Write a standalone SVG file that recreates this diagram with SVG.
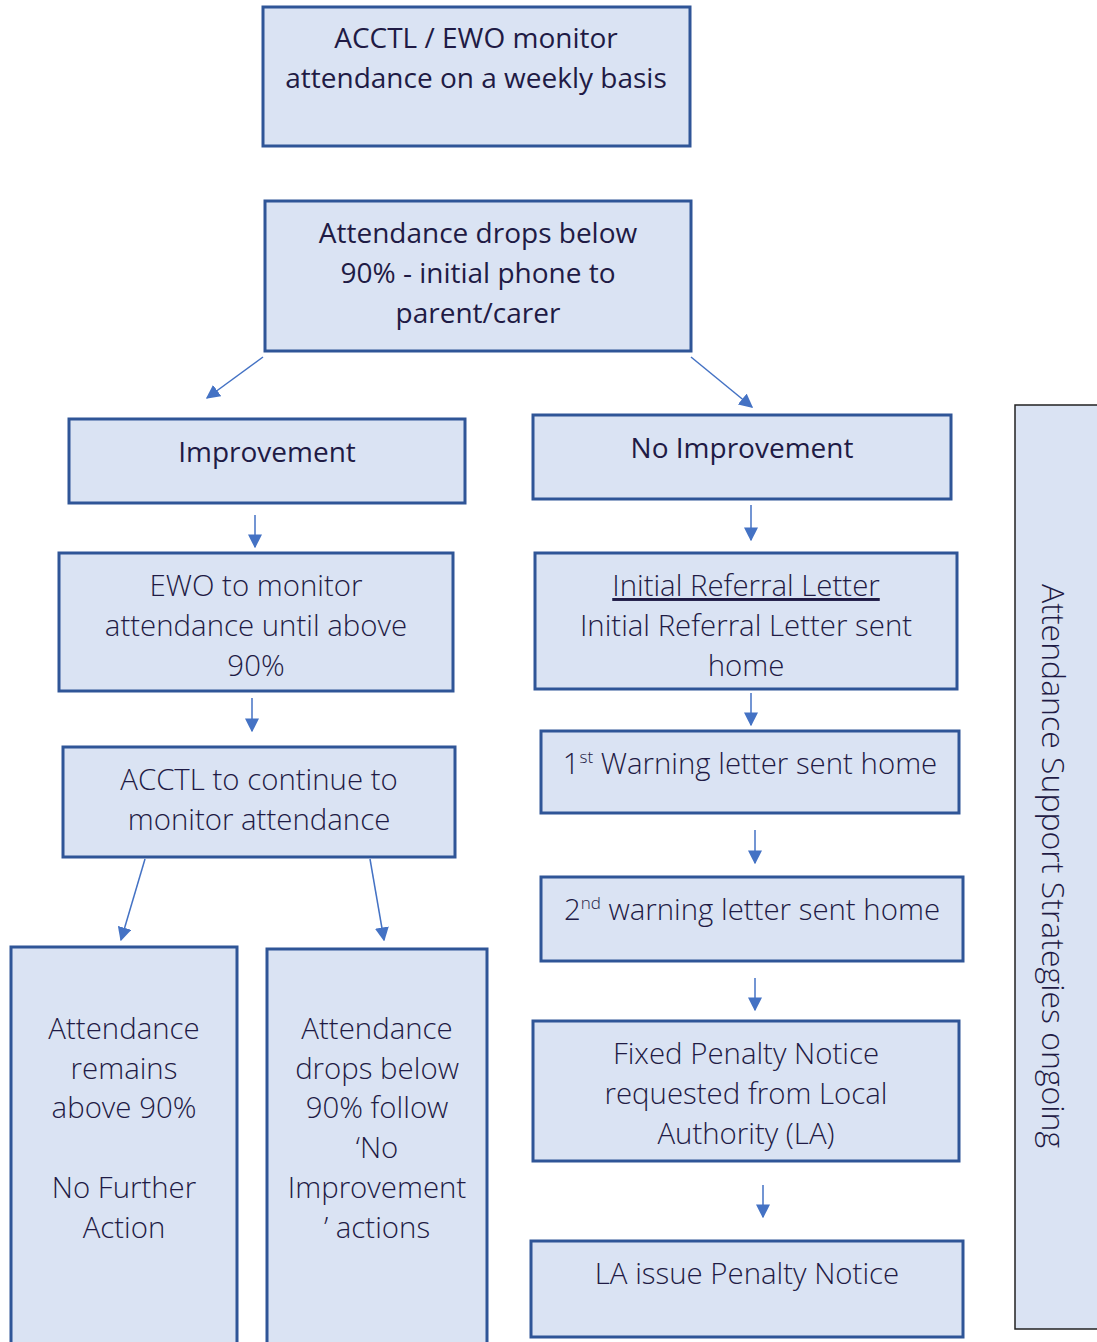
<svg xmlns="http://www.w3.org/2000/svg" width="1097" height="1342" viewBox="0 0 1097 1342">
<style>
.box{fill:#dae3f3;stroke:#2f5597;stroke-width:3}
.side{fill:#dae3f3;stroke:#222;stroke-width:1.5}
text{font-family:"Open Sans","Noto Sans",sans-serif;font-size:28px;fill:#1f1b45;text-anchor:middle}
.lt{font-weight:300;font-size:29.4px}
.con line{stroke:#4472c4;stroke-width:1.5;marker-end:url(#ah)}
</style>
<defs>
<marker id="ah" viewBox="0 0 10 10" refX="9" refY="5" markerWidth="14" markerHeight="14" markerUnits="userSpaceOnUse" orient="auto">
<path d="M0,0 L10,5 L0,10 z" fill="#4472c4"/>
</marker>
</defs>
<g id="n1"><rect class="box" x="263" y="7" width="427" height="139"/>
<text x="476" y="48">ACCTL / EWO monitor</text><text x="476" y="88">attendance on a weekly basis</text></g>
<g id="n2"><rect class="box" x="265" y="201" width="426" height="150"/>
<text x="478" y="243">Attendance drops below</text><text x="478" y="283">90% - initial phone to</text><text x="478" y="323">parent/carer</text></g>
<g id="n3"><rect class="box" x="69" y="419" width="396" height="84"/>
<text x="267" y="462">Improvement</text></g>
<g id="n4"><rect class="box" x="533" y="415" width="418" height="84"/>
<text x="742" y="458">No Improvement</text></g>
<g id="n5"><rect class="box" x="59" y="553" width="394" height="138"/>
<text class="lt" x="256" y="596">EWO to monitor</text><text class="lt" x="256" y="636">attendance until above</text><text class="lt" x="256" y="676">90%</text></g>
<g id="n6"><rect class="box" x="535" y="553" width="422" height="136"/>
<text class="lt" x="746" y="596" text-decoration="underline">Initial Referral Letter</text><text class="lt" x="746" y="636">Initial Referral Letter sent</text><text class="lt" x="746" y="676">home</text></g>
<g id="n7"><rect class="box" x="63" y="747" width="392" height="110"/>
<text class="lt" x="259" y="790">ACCTL to continue to</text><text class="lt" x="259" y="830">monitor attendance</text></g>
<g id="n8"><rect class="box" x="541" y="731" width="418" height="82"/>
<text class="lt" x="750" y="774">1<tspan font-size="17" dy="-11">st</tspan><tspan dy="11"> Warning letter sent home</tspan></text></g>
<g id="n9"><rect class="box" x="541" y="877" width="422" height="84"/>
<text class="lt" x="752" y="920">2<tspan font-size="17" dy="-11">nd</tspan><tspan dy="11"> warning letter sent home</tspan></text></g>
<g id="n10"><rect class="box" x="533" y="1021" width="426" height="140"/>
<text class="lt" x="746" y="1064">Fixed Penalty Notice</text><text class="lt" x="746" y="1104">requested from Local</text><text class="lt" x="746" y="1144">Authority (LA)</text></g>
<g id="n11"><rect class="box" x="531" y="1241" width="432" height="96"/>
<text class="lt" x="747" y="1284">LA issue Penalty Notice</text></g>
<g id="n12"><rect class="box" x="11" y="947" width="226" height="400"/>
<text class="lt" x="124" y="1039">Attendance</text><text class="lt" x="124" y="1079">remains</text><text class="lt" x="124" y="1118">above 90%</text><text class="lt" x="124" y="1198">No Further</text><text class="lt" x="124" y="1238">Action</text></g>
<g id="n13"><rect class="box" x="267" y="949" width="220" height="400"/>
<text class="lt" x="377" y="1039">Attendance</text><text class="lt" x="377" y="1079">drops below</text><text class="lt" x="377" y="1118">90% follow</text><text class="lt" x="377" y="1158">‘No</text><text class="lt" x="377" y="1198">Improvement</text><text class="lt" x="377" y="1238">’ actions</text></g>
<g id="n14"><rect class="side" x="1015" y="405" width="90" height="924"/>
<text class="lt" style="font-size:32px" transform="translate(1042,866) rotate(90)" x="0" y="0">Attendance Support Strategies ongoing</text></g>
<g class="con" id="connectors">
<line x1="263" y1="357" x2="207" y2="398"/>
<line x1="691" y1="357" x2="752" y2="407"/>
<line x1="255" y1="515" x2="255" y2="547"/>
<line x1="751" y1="505" x2="751" y2="540"/>
<line x1="252" y1="698" x2="252" y2="731"/>
<line x1="751" y1="693" x2="751" y2="725"/>
<line x1="755" y1="830" x2="755" y2="863"/>
<line x1="755" y1="978" x2="755" y2="1010"/>
<line x1="763" y1="1185" x2="763" y2="1217"/>
<line x1="145" y1="859" x2="121" y2="940"/>
<line x1="370" y1="859" x2="384" y2="940"/>
</g>
</svg>
